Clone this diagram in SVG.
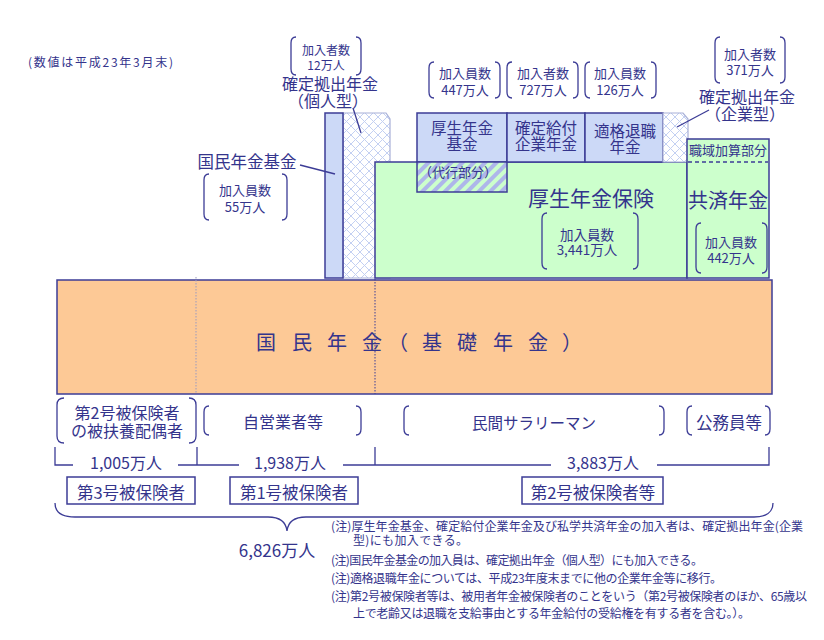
<svg xmlns="http://www.w3.org/2000/svg" width="824" height="640" viewBox="0 0 824 640">
<defs>
<pattern id="xh" patternUnits="userSpaceOnUse" width="9" height="9">
<rect width="9" height="9" fill="#ffffff"/>
<path d="M0,0L9,9M9,0L0,9" stroke="#c3d0f2" stroke-width="1"/>
</pattern>
<pattern id="st" patternUnits="userSpaceOnUse" width="8" height="8" patternTransform="rotate(45)">
<rect width="8" height="8" fill="#ccffcc"/>
<rect width="4" height="8" fill="#aeb6ea"/>
</pattern>
</defs>
<style>
text{font-family:"Noto Sans CJK JP","Noto Sans",sans-serif;fill:#34348c}
.c{text-anchor:middle}
.box{stroke:#3c3c96;stroke-width:1.5}
.blue{fill:#ccd9f7}
.green{fill:#ccffcc}
.lite{stroke:#a8b0d8;stroke-width:1.2}
.br{fill:none;stroke:#3c3c96;stroke-width:1.3}
.ln{fill:none;stroke:#3c3c96;stroke-width:1.3}
.f12{font-size:12px}.f13{font-size:13px}.f15{font-size:15.5px}.f16{font-size:16px}.f17{font-size:17px}
</style>
<rect width="824" height="640" fill="#ffffff"/>

<g id="note-date"><text x="28" y="67" class="f12" textLength="145">(数値は平成23年3月末)</text></g>

<g id="dc-individual">
<path d="M343,113 H386 L390,119 V278 H343 Z" fill="url(#xh)" class="lite"/>
<path class="br" d="M296,37 Q291,37 291,43 V69 Q291,75 296,75 M356,37 Q361,37 361,43 V69 Q361,75 356,75"/>
<text x="326" y="55" class="c f12">加入者数</text>
<text x="326" y="70" class="c f12">12万人</text>
<text x="330" y="90" class="c f16">確定拠出年金</text>
<text x="328" y="107" class="c f16">（個人型）</text>
</g>

<g id="kokumin-kikin">
<rect x="325" y="113" width="18" height="165" class="box blue"/>
<text x="247" y="168" class="c" style="font-size:16.5px">国民年金基金</text>
<path class="br" d="M209,174 Q204,174 204,180 V214 Q204,220 209,220 M282,174 Q287,174 287,180 V214 Q287,220 282,220"/>
<text x="245" y="195" class="c f13">加入員数</text>
<text x="245" y="212" class="c f13">55万人</text>
</g>

<g id="kosei-hoken">
<rect x="375" y="162" width="312" height="116" class="box green"/>
<text x="591" y="206" class="c" style="font-size:21px">厚生年金保険</text>
<path class="br" d="M547,213 Q542,213 542,219 V263 Q542,269 547,269 M633,213 Q638,213 638,219 V263 Q638,269 633,269"/>
<text x="587" y="240" class="c" style="font-size:13.5px">加入員数</text>
<text x="587" y="255" class="c" style="font-size:13.5px">3,441万人</text>
</g>

<g id="kosei-kikin">
<rect x="417" y="113" width="90" height="49" class="box blue"/>
<text x="462" y="134" class="c f15">厚生年金</text>
<text x="462" y="150" class="c f15">基金</text>
<path class="br" d="M434,62 Q429,62 429,68 V92 Q429,98 434,98 M495,62 Q500,62 500,68 V92 Q500,98 495,98"/>
<text x="465" y="78" class="c f13">加入員数</text>
<text x="465" y="95" class="c f13">447万人</text>
</g>

<g id="daiko">
<rect x="417" y="162" width="90" height="30" fill="url(#st)" class="box"/>
<text x="458" y="177" class="c f13">（代行部分）</text>
</g>

<g id="db">
<rect x="507" y="113" width="78" height="49" class="box blue"/>
<text x="546" y="134" class="c f15">確定給付</text>
<text x="546" y="150" class="c f15">企業年金</text>
<path class="br" d="M512,62 Q507,62 507,68 V92 Q507,98 512,98 M573,62 Q578,62 578,68 V92 Q578,98 573,98"/>
<text x="543" y="78" class="c f13">加入者数</text>
<text x="543" y="95" class="c f13">727万人</text>
</g>

<g id="tekikaku">
<rect x="585" y="113" width="78" height="49" class="box blue"/>
<text x="625" y="137" class="c f15">適格退職</text>
<text x="625" y="153" class="c f15">年金</text>
<path class="br" d="M590,62 Q585,62 585,68 V92 Q585,98 590,98 M651,62 Q656,62 656,68 V92 Q656,98 651,98"/>
<text x="620" y="78" class="c f13">加入員数</text>
<text x="620" y="95" class="c f13">126万人</text>
</g>

<g id="dc-corporate">
<path d="M663,113 H683 L688,119 V162 H663 Z" fill="url(#xh)" class="lite"/>
<path class="br" d="M720,37 Q715,37 715,43 V77 Q715,83 720,83 M780,37 Q785,37 785,43 V77 Q785,83 780,83"/>
<text x="750" y="59" class="c f13">加入者数</text>
<text x="750" y="75" class="c f13">371万人</text>
<text x="747" y="103" class="c f16">確定拠出年金</text>
<text x="745" y="120" class="c f16">（企業型）</text>
</g>

<g id="kyosai">
<rect x="687" y="139" width="82" height="139" class="box green"/>
<line x1="688" y1="162" x2="768" y2="162" stroke="#3c3c96" stroke-width="1.3" stroke-dasharray="4,3"/>
<text x="728" y="155" class="c f13">職域加算部分</text>
<text x="728" y="208" class="c" style="font-size:20px">共済年金</text>
<path class="br" d="M701,223 Q696,223 696,229 V267 Q696,273 701,273 M762,223 Q767,223 767,229 V267 Q767,273 762,273"/>
<text x="731" y="247" class="c f13">加入員数</text>
<text x="731" y="263" class="c f13">442万人</text>
</g>

<g id="kiso">
<rect x="57" y="280" width="715" height="114" fill="#fdc996" class="box"/>
<text y="350" style="font-size:20px" x="256 292 327 362 388 422 457 493 528 562">国民年金（基礎年金）</text>
</g>

<g id="connectors">
<line x1="353" y1="108" x2="361" y2="133" class="ln"/>
<line x1="300" y1="165" x2="335" y2="174" class="ln"/>
<line x1="677" y1="127" x2="709" y2="110" class="ln"/>
<line x1="196" y1="277" x2="196" y2="394" stroke="#9a9ac0" stroke-width="1" stroke-dasharray="1.5,1.5"/>
<line x1="375" y1="279" x2="375" y2="394" stroke="#3c3c96" stroke-width="1" stroke-dasharray="1.5,1.5"/>
<path class="ln" d="M55,447 V465 H73 M178,465 H239 M197,447 V465 M343,465 H551 M375,447 V465 M657,465 H769 V447"/>
<path class="ln" d="M55,503 C55,512 62,517 75,517 L268,517 C280,517 286,522 287,531 C288,522 294,517 306,517 L754,517 C766,517 773,512 773,503"/>
</g>

<g id="group3">
<path class="br" d="M64,398 Q57,398 57,405 V436 Q57,443 64,443 M189,398 Q196,398 196,405 V436 Q196,443 189,443"/>
<text x="127" y="419" class="c f16">第2号被保険者</text>
<text x="127" y="437" class="c f16">の被扶養配偶者</text>
<text x="126" y="469" class="c f16">1,005万人</text>
<rect x="67" y="477" width="128" height="27" fill="none" class="box"/>
<text x="131" y="499" class="c" style="font-size:16.5px">第3号被保険者</text>
</g>

<g id="group1">
<path class="br" d="M209,406 Q204,406 204,412 V429 Q204,435 209,435 M356,406 Q361,406 361,412 V429 Q361,435 356,435"/>
<text x="283" y="428" class="c f16">自営業者等</text>
<text x="290" y="469" class="c f16">1,938万人</text>
<rect x="230" y="477" width="128" height="27" fill="none" class="box"/>
<text x="294" y="499" class="c" style="font-size:16.5px">第1号被保険者</text>
</g>

<g id="group2">
<path class="br" d="M409,406 Q404,406 404,412 V429 Q404,435 409,435 M659,406 Q664,406 664,412 V429 Q664,435 659,435"/>
<text x="534" y="429" class="c" style="font-size:15.5px">民間サラリーマン</text>
<path class="br" d="M692,406 Q687,406 687,412 V429 Q687,435 692,435 M765,406 Q770,406 770,412 V429 Q770,435 765,435"/>
<text x="729" y="429" class="c" style="font-size:16.5px">公務員等</text>
<text x="603" y="469" class="c f16">3,883万人</text>
<rect x="522" y="477" width="141" height="27" fill="none" class="box"/>
<text x="593" y="499" class="c" style="font-size:16.5px">第2号被保険者等</text>
</g>

<g id="total">
<text x="277" y="557" class="c f17">6,826万人</text>
</g>

<g id="notes" class="f12">
<text x="331" y="531" textLength="472">(注)厚生年金基金、確定給付企業年金及び私学共済年金の加入者は、確定拠出年金(企業</text>
<text x="353" y="545" textLength="115">型)にも加入できる。</text>
<text x="331" y="565" textLength="372">(注)国民年金基金の加入員は、確定拠出年金（個人型）にも加入できる。</text>
<text x="331" y="583" textLength="391">(注)適格退職年金については、平成23年度末までに他の企業年金等に移行。</text>
<text x="331" y="601" textLength="476">(注)第2号被保険者等は、被用者年金被保険者のことをいう（第2号被保険者のほか、65歳以</text>
<text x="353" y="618" textLength="397">上で老齢又は退職を支給事由とする年金給付の受給権を有する者を含む。）。</text>
</g>
</svg>
